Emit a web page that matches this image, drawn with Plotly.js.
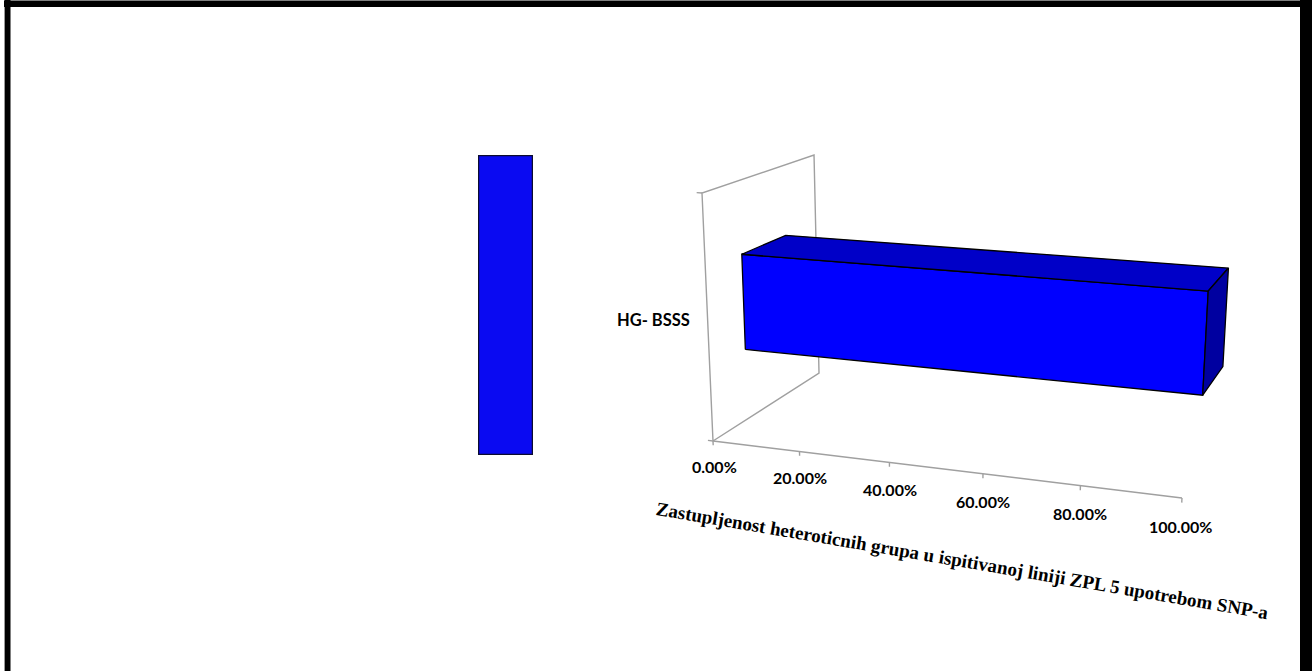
<!DOCTYPE html>
<html><head><meta charset="utf-8">
<script src="https://cdn.plot.ly/plotly-3.0.1.min.js"></script>
<style>html,body{margin:0;padding:0;background:#fff;}#chart{width:1312px;height:671px;}</style>
</head><body><div id="chart"></div>
<script>
// ---- data ----
const categories = ['HG- BSSS'];
const seriesValues = [1.0];
const tickValues = [0, 0.2, 0.4, 0.6, 0.8, 1.0];
const tickLabels = ['0.00%', '20.00%', '40.00%', '60.00%', '80.00%', '100.00%'];
const axisTitle = 'Zastupljenost heteroticnih grupa u ispitivanoj liniji ZPL 5 upotrebom SNP-a';

// ---- 3D perspective camera (value, depth, height) -> screen ----
const CAM = {
  x: [713, 356.1, 225.6, -44.04],
  y: [441, 9.4, -13.5, -257.08],
  w: [1, -0.0955, 0.146, -0.04706]
};
const axisMax = tickValues[tickValues.length - 1];
function proj(val, d, h) {
  const v = val / axisMax;
  const w = CAM.w[0] + CAM.w[1] * v + CAM.w[2] * d + CAM.w[3] * h;
  return [(CAM.x[0] + CAM.x[1] * v + CAM.x[2] * d + CAM.x[3] * h) / w,
          (CAM.y[0] + CAM.y[1] * v + CAM.y[2] * d + CAM.y[3] * h) / w];
}
function poly(pts, close) {
  const xs = [], ys = [];
  pts.forEach(p => { const q = proj(p[0], p[1], p[2]); xs.push(q[0]); ys.push(q[1]); });
  if (close) { xs.push(xs[0]); ys.push(ys[0]); }
  return {xs, ys};
}
const AXIS_GRAY = '#a0a0a0';
const traces = [];

// wall at value 0
let w = poly([[0,0,0],[0,0,1],[0,1,1],[0,1,0],[0,0,0]], false);
traces.push({type:'scatter', mode:'lines', x:w.xs, y:w.ys, line:{color:AXIS_GRAY, width:1.4}, hoverinfo:'skip'});
// value axis + ticks
const ax = {x:[], y:[]};
let a = poly([[0,0,0],[axisMax,0,0]]);
ax.x.push(...a.xs, null); ax.y.push(...a.ys, null);
tickValues.forEach(t => { const s = poly([[t,0,0],[t,0,-0.018]]); ax.x.push(...s.xs, null); ax.y.push(...s.ys, null); });
[0,1].forEach(h => { const s = poly([[0,0,h],[-0.012*axisMax,0,h]]); ax.x.push(...s.xs, null); ax.y.push(...s.ys, null); });
traces.push({type:'scatter', mode:'lines', x:ax.x, y:ax.y, line:{color:AXIS_GRAY, width:1.4}, hoverinfo:'skip'});

// bars
const d1 = 0.3, d2 = 0.7, h1 = 0.3, h2 = 0.7;
categories.forEach((c, i) => {
  const val = seriesValues[i];
  const front = poly([[0,d1,h1],[0,d1,h2],[val,d1,h2],[val,d1,h1]], true);
  const top = poly([[0,d1,h2],[0,d2,h2],[val,d2,h2],[val,d1,h2]], true);
  const side = poly([[val,d1,h1],[val,d1,h2],[val,d2,h2],[val,d2,h1]], true);
  [[front,'#0000ff'],[top,'#0000c8'],[side,'#0000a0']].forEach(f => {
    traces.push({type:'scatter', mode:'lines', x:f[0].xs, y:f[0].ys, fill:'toself', fillcolor:f[1],
      line:{color:'#000000', width:1.3}, hoverinfo:'skip'});
  });
});

// left strip bar
traces.push({type:'bar', x:[0], y:seriesValues, width:[1], xaxis:'x2', yaxis:'y2',
  marker:{color:'#0a0af2', line:{color:'#0c0c30', width:2.5}}, hoverinfo:'skip'});

// annotations
const annotations = [];
tickValues.forEach((t, i) => {
  const p = proj(t, 0, -0.11);
  annotations.push({x:p[0], y:p[1], xref:'x', yref:'y', text:tickLabels[i], showarrow:false,
    xanchor:'center', yanchor:'middle', font:{family:'Lato', size:16, color:'#000', weight:700}});
});
categories.forEach((c, i) => {
  const p = proj(0, 0, 0.5);
  annotations.push({x:p[0] - 16, y:p[1], xref:'x', yref:'y', text:c, showarrow:false,
    xanchor:'right', yanchor:'middle', font:{family:'Lato', size:16.5, color:'#000', weight:700}});
});
annotations.push({x:962, y:560, xref:'x', yref:'y', text:axisTitle, showarrow:false, textangle:9.7,
  xanchor:'center', yanchor:'middle', font:{family:'Liberation Serif', size:19, color:'#000', weight:700}});

const shapes = [
  {type:'rect', xref:'x', yref:'y', x0:4, x1:5, y0:0, y1:671, fillcolor:'#999', line:{width:0}},
  {type:'rect', xref:'x', yref:'y', x0:5, x1:10.5, y0:0, y1:671, fillcolor:'#000', line:{width:0}},
  {type:'rect', xref:'x', yref:'y', x0:4, x1:1312, y0:0.5, y1:7, fillcolor:'#000', line:{width:0}},
  {type:'rect', xref:'x', yref:'y', x0:1300, x1:1312, y0:0, y1:671, fillcolor:'#000', line:{width:0}}
];

const layout = {
  width:1312, height:671, margin:{l:0, r:0, t:0, b:0}, showlegend:false,
  paper_bgcolor:'#fff', plot_bgcolor:'rgba(0,0,0,0)',
  xaxis:{range:[0,1312], domain:[0,1], visible:false, fixedrange:true},
  yaxis:{range:[671,0], domain:[0,1], visible:false, fixedrange:true},
  xaxis2:{range:[-0.5,0.5], domain:[478/1312, 533/1312], visible:false, anchor:'y2', fixedrange:true},
  yaxis2:{range:[0,1], domain:[1-455/671, 1-155/671], visible:false, anchor:'x2', fixedrange:true},
  annotations, shapes
};
Plotly.newPlot('chart', traces, layout, {staticPlot:true, displayModeBar:false});
</script></body></html>
